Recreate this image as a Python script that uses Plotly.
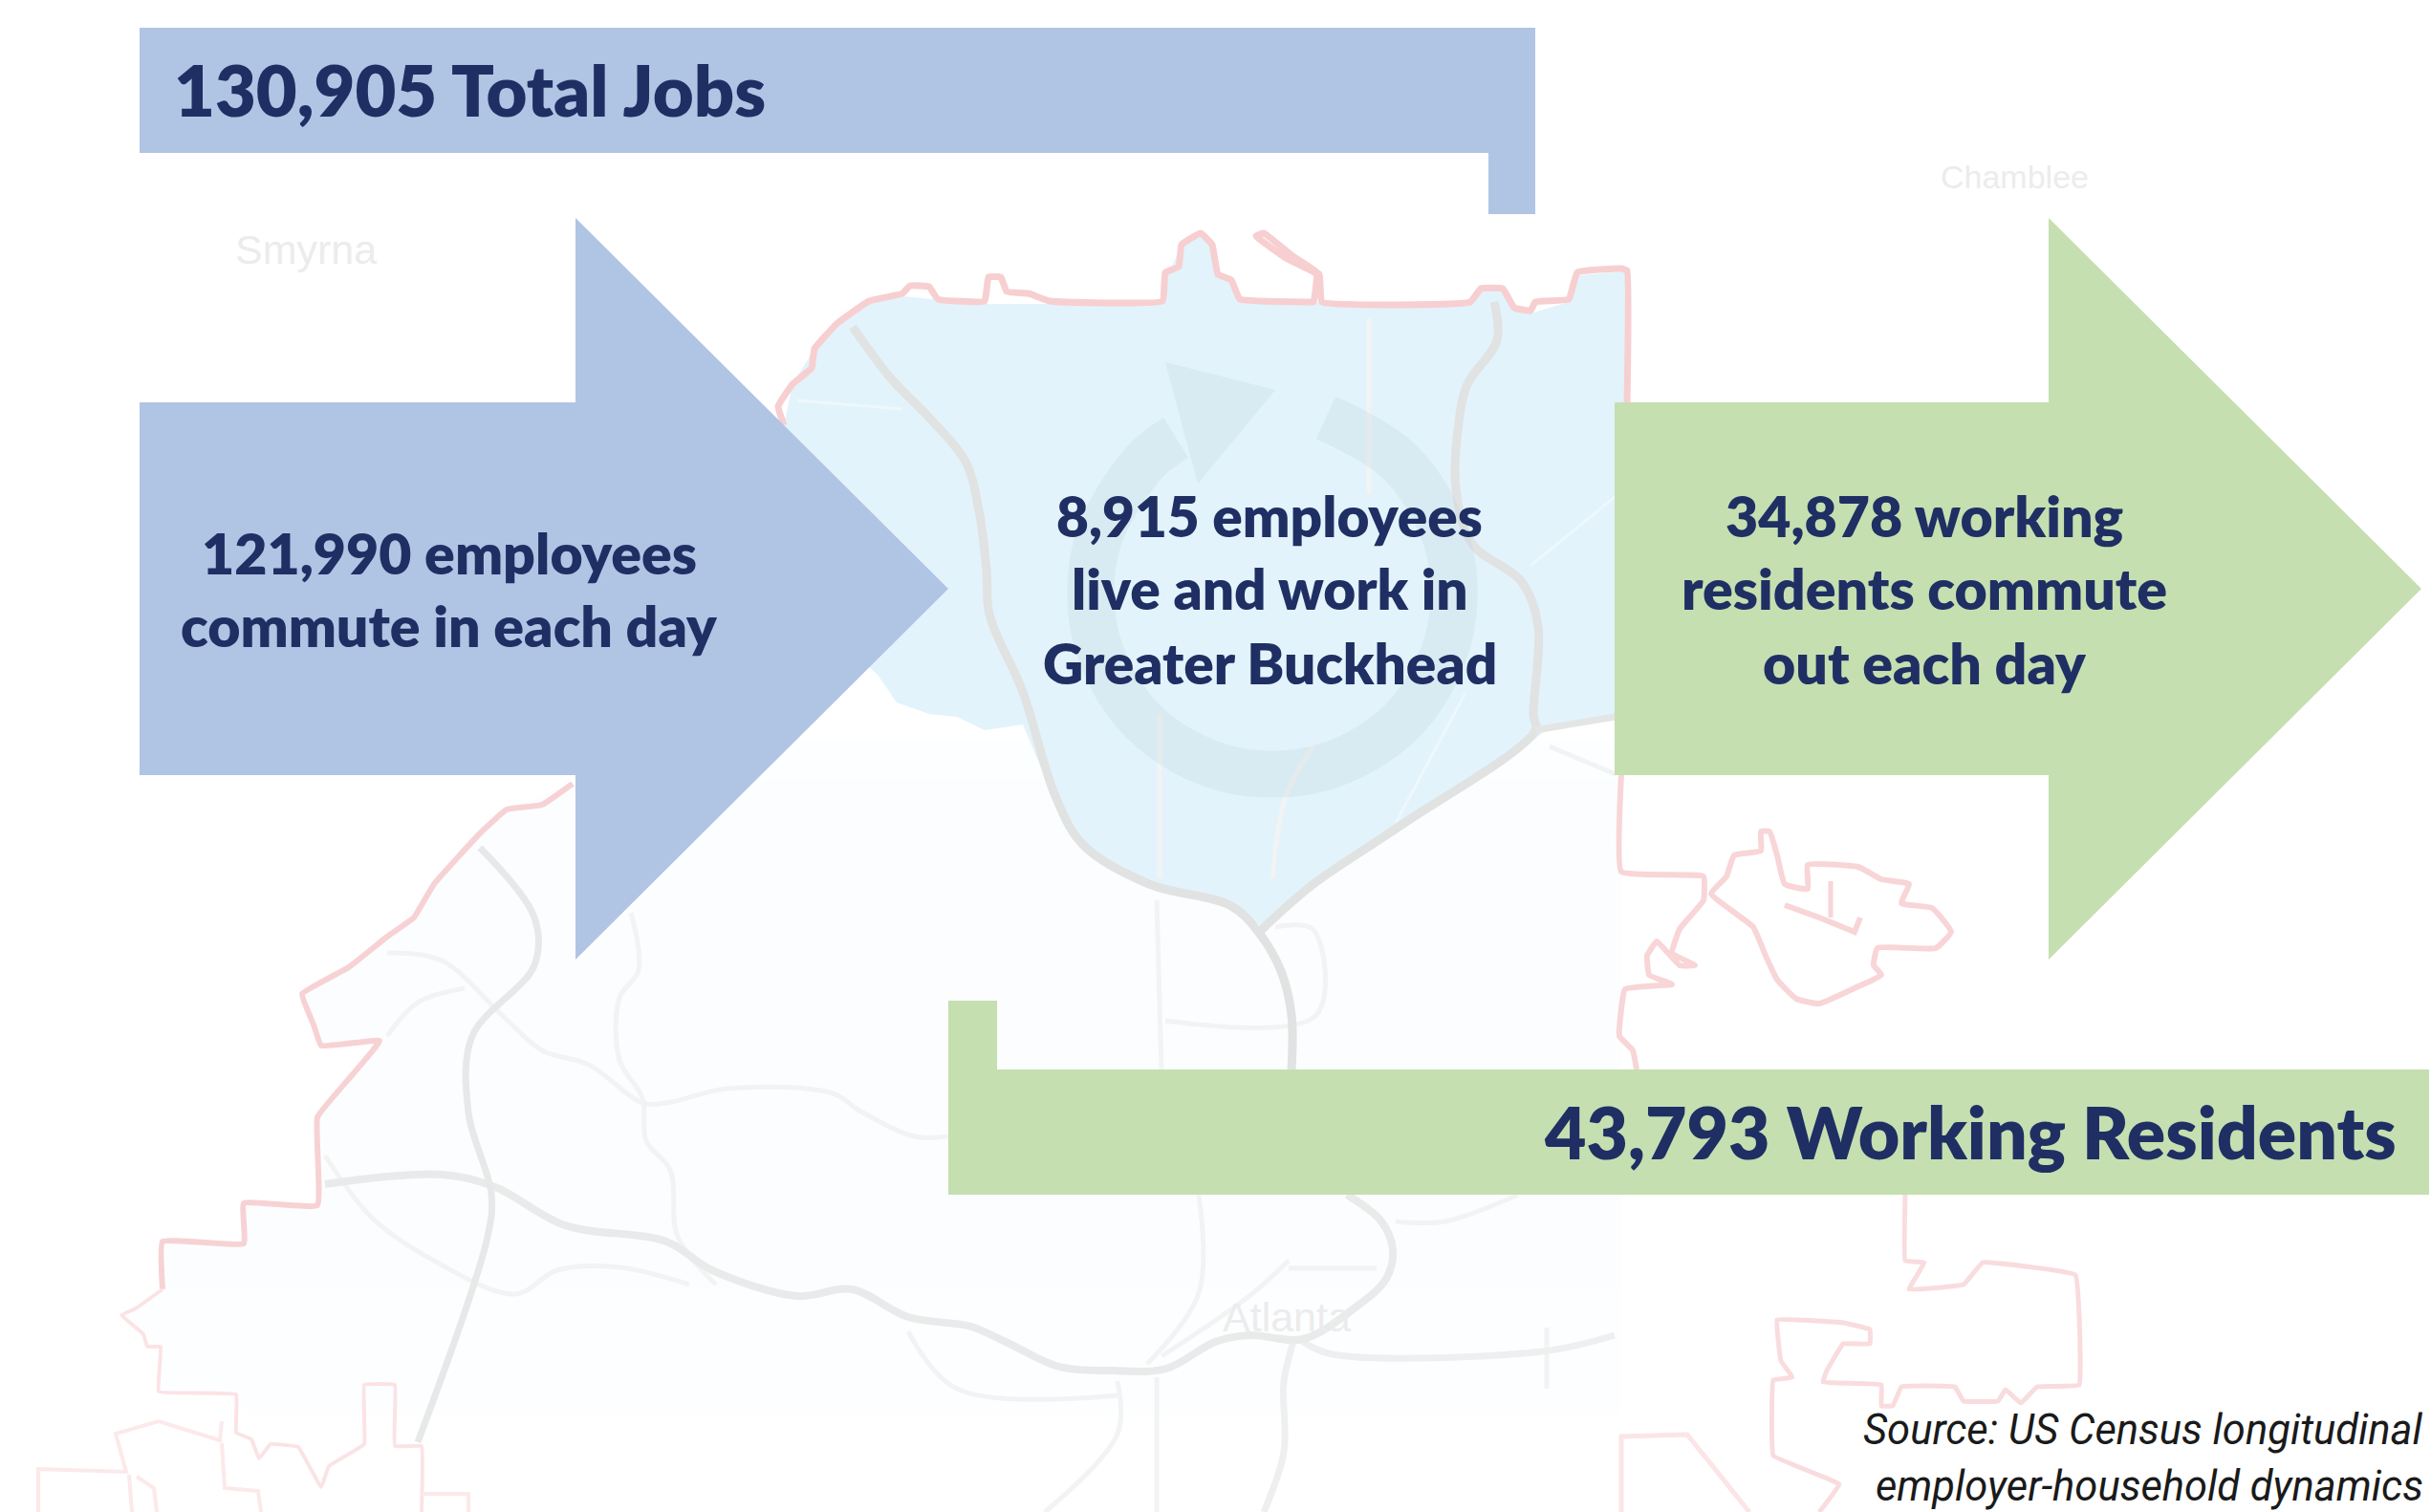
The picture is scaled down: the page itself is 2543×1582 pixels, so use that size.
import plotly.graph_objects as go

W, H = 2543, 1582
NAVY = "#1f2f63"
BLUE = "#b0c4e4"
GREEN = "#c5dfb1"
SKY = "#e2f3fb"

# ---- labels -------------------------------------------------------------
title_jobs = "130,905 Total Jobs"
title_residents = "43,793 Working Residents"
commute_in = ["121,990 employees", "commute in each day"]
live_work = ["8,915 employees", "live and work in", "Greater Buckhead"]
commute_out = ["34,878 working", "residents commute", "out each day"]
source_lines = ["Source: US Census longitudinal", "employer-household dynamics"]
place_names = ["Smyrna", "Chamblee", "Atlanta"]

# ---- diagram outlines (picture pixels) ---------------------------------
banner_jobs = [(146, 29), (1606, 29), (1606, 224), (1557, 224), (1557, 160), (146, 160)]
banner_res = [(992, 1047), (1043, 1047), (1043, 1119), (2541, 1119), (2541, 1250), (992, 1250)]
arrow_in = [(146, 421), (602, 421), (602, 228), (992, 616), (602, 1004), (602, 811), (146, 811)]
arrow_out = [(1689, 421), (2143, 421), (2143, 228), (2533, 616), (2143, 1004), (2143, 811), (1689, 811)]

buckhead = [(800, 600), (820, 445), (829, 402), (852, 365), (875, 339), (909, 318), (944, 310), (1030, 318),
            (1098, 318), (1216, 318), (1221, 288), (1236, 258), (1256, 247), (1268, 258), (1274, 290),
            (1290, 296), (1299, 316), (1535, 316), (1549, 304), (1572, 304), (1584, 325), (1601, 328),
            (1641, 316), (1650, 288), (1702, 284), (1702, 752), (1617, 764), (1604, 775), (1460, 873),
            (1374, 927), (1322, 971), (1288, 948), (1202, 927), (1133, 890), (1104, 839), (1070, 758),
            (1030, 764), (1001, 750), (972, 747), (938, 735), (918, 706)]
tint_band = [(800, 775), (1696, 775), (1696, 815), (800, 815)]
tint_upper = [(599, 820), (530, 847), (454, 925), (405, 980), (316, 1040), (336, 1094), (397, 1089), (332, 1169),
              (332, 1261), (255, 1259), (255, 1301), (170, 1299), (170, 1349), (1696, 1349), (1696, 815), (800, 815)]
tint_lower = [(170, 1349), (127, 1376), (168, 1409), (166, 1456), (247, 1459), (260, 1480), (1696, 1480), (1696, 1349)]

ring_centre = [(1387, 437), (1466, 485), (1515, 571), (1515, 669), (1466, 755), (1380, 804), (1282, 804),
               (1196, 755), (1147, 669), (1147, 571), (1196, 485), (1230, 458)]
ring_head = [(1219, 379), (1334, 408), (1253, 506)]

# ---- boundary lines ----------------------------------------------------
north = [(820, 445), (814, 425), (829, 402), (849, 385), (852, 365), (875, 339), (909, 315), (944, 307), (952, 299),
         (972, 300), (981, 313), (1030, 315), (1034, 290), (1047, 290), (1053, 305), (1076, 307), (1098, 315),
         (1216, 315), (1219, 285), (1233, 279), (1236, 256), (1256, 244), (1268, 256), (1274, 287), (1288, 293),
         (1297, 313), (1368, 316), (1374, 316), (1377, 287), (1345, 270), (1314, 247), (1322, 244), (1351, 267),
         (1380, 287), (1383, 316), (1538, 316), (1549, 302), (1572, 302), (1584, 322), (1601, 325), (1606, 316),
         (1641, 313), (1650, 285), (1696, 281), (1702, 283), (1702, 425)]
east = [(1696, 810), (1696, 912), (1782, 917), (1782, 942), (1757, 972), (1749, 997), (1773, 1010), (1757, 1010),
        (1733, 985), (1723, 1000), (1725, 1020), (1749, 1030), (1700, 1035), (1694, 1084), (1708, 1099), (1712, 1119)]
east_loop = [(1790, 935), (1806, 917), (1814, 895), (1842, 890), (1842, 870), (1851, 870), (1859, 895), (1867, 925),
             (1891, 930), (1891, 905), (1944, 907), (1968, 920), (1997, 925), (1989, 945), (2021, 950), (2041, 975),
             (2025, 992), (1964, 992), (1960, 1010), (1968, 1020), (1944, 1032), (1903, 1050), (1879, 1045),
             (1859, 1025), (1847, 1000), (1834, 970), (1790, 935)]
east_inner_a = [(1867, 947), (1903, 960), (1940, 975), (1946, 960)]
east_inner_b = [(1915, 922), (1915, 960)]
southeast = [(1993, 1250), (1993, 1319), (2013, 1321), (1997, 1349), (2054, 1344), (2074, 1321), (2171, 1334),
             (2175, 1449), (2131, 1451), (2114, 1468), (2098, 1454), (2090, 1466), (2054, 1466), (2045, 1451),
             (1989, 1451), (1980, 1471), (1968, 1471), (1968, 1449), (1907, 1446), (1911, 1434), (1928, 1406),
             (1956, 1406), (1956, 1391), (1928, 1384), (1859, 1381), (1863, 1424), (1875, 1441), (1855, 1444),
             (1855, 1523), (1924, 1553), (1903, 1582)]
south_pocket = [(1696, 1582), (1696, 1503), (1765, 1501), (1830, 1582)]
west_upper = [(599, 820), (567, 842), (530, 847), (502, 872), (454, 925), (433, 960), (405, 980), (365, 1012),
              (316, 1040), (328, 1072), (336, 1094), (397, 1089), (369, 1124), (332, 1169), (332, 1261), (255, 1259),
              (255, 1301), (170, 1299), (170, 1349)]
west_lower = [(170, 1349), (142, 1369), (127, 1376), (150, 1396), (154, 1409), (168, 1409), (166, 1456), (247, 1459),
              (247, 1499), (263, 1506), (271, 1526), (283, 1511), (312, 1514), (336, 1556), (344, 1534), (381, 1511),
              (381, 1449), (413, 1449), (413, 1513), (441, 1513), (441, 1582)]
sw_a = [(232, 1487), (230, 1507), (166, 1487), (121, 1500), (132, 1540), (40, 1537), (40, 1582)]
sw_b = [(135, 1543), (138, 1582)]
sw_c = [(143, 1545), (161, 1557), (164, 1582)]
sw_d = [(232, 1510), (235, 1557), (270, 1560), (273, 1582)]
sw_e = [(441, 1563), (450, 1563), (490, 1563), (490, 1582)]

# ---- roads -------------------------------------------------------------
road_a = [(892, 342), (932, 396), (972, 437), (1010, 483), (1024, 534), (1032, 597), (1035, 643), (1070, 724),
          (1104, 833), (1133, 884), (1202, 925), (1288, 948), (1317, 976), (1340, 1016), (1351, 1062), (1351, 1119)]
road_b = [(1563, 316), (1566, 356), (1535, 402), (1526, 442), (1523, 511), (1540, 569), (1592, 609), (1609, 655),
          (1604, 747), (1606, 764), (1460, 867), (1374, 925), (1328, 965), (1317, 976)]
road_b2 = [(1606, 764), (1695, 749)]
road_d = [(1409, 1250), (1445, 1278), (1457, 1308), (1450, 1338), (1419, 1367), (1363, 1401), (1307, 1397),
          (1271, 1404), (1220, 1432), (1164, 1434), (1108, 1430), (1052, 1404), (1016, 1388), (950, 1378),
          (891, 1349), (834, 1356), (745, 1329), (697, 1299), (591, 1282), (518, 1242), (462, 1229), (340, 1239)]
road_e = [(502, 887), (559, 960), (559, 1010), (494, 1084), (490, 1164), (514, 1249), (510, 1294), (437, 1509)]
road_j = [(1363, 1404), (1394, 1417), (1613, 1414), (1689, 1397)]
road_k = [(1353, 1404), (1343, 1445), (1343, 1519), (1322, 1582)]
faint_roads = [
    [(405, 997), (462, 1005), (527, 1064), (567, 1099), (616, 1114), (672, 1154), (697, 1154), (761, 1139),
     (871, 1144), (899, 1162), (956, 1189), (992, 1189)],
    [(660, 955), (668, 1015), (648, 1044), (648, 1109), (672, 1149), (676, 1194), (701, 1224), (709, 1294), (749, 1344)],
    [(340, 1209), (389, 1274), (454, 1319), (539, 1354), (583, 1329), (648, 1326), (721, 1344)],
    [(486, 1034), (437, 1049), (405, 1084)],
    [(1334, 970), (1374, 973), (1377, 1062), (1219, 1068)],
    [(1210, 942), (1215, 1119)],
    [(1254, 1250), (1254, 1353), (1200, 1427)],
    [(1348, 1327), (1440, 1327)],
    [(1348, 1319), (1307, 1356), (1215, 1419)],
    [(1210, 1441), (1210, 1582)],
    [(950, 1393), (1001, 1453), (1169, 1460)],
    [(1169, 1445), (1169, 1500), (1093, 1582)],
    [(1618, 1389), (1618, 1453)],
    [(1460, 1278), (1511, 1278), (1588, 1250)],
    [(1621, 781), (1690, 810)],
    [(1432, 333), (1432, 517)],
    [(1213, 747), (1213, 919)],
    [(1374, 781), (1345, 833), (1331, 919)],
]
white_roads = [
    [(1460, 861), (1533, 725)],
    [(1601, 592), (1700, 511)],
    [(834, 419), (944, 428)],
]


def xs(path):
    return [p[0] for p in path]


def ys(path):
    return [p[1] for p in path]


fig = go.Figure()


def area(path, color):
    fig.add_trace(go.Scatter(x=xs(path) + [path[0][0]], y=ys(path) + [path[0][1]], mode="lines", fill="toself",
                             fillcolor=color, line=dict(width=0, color=color), hoverinfo="skip", showlegend=False))


def stroke(path, color, width, smooth=0.0):
    fig.add_trace(go.Scatter(x=xs(path), y=ys(path), mode="lines",
                             line=dict(color=color, width=width, shape="spline" if smooth else "linear",
                                       smoothing=smooth if smooth else None), hoverinfo="skip", showlegend=False))


area(tint_band, "#fdfeff")
area(tint_upper, "#fcfdfe")
area(tint_lower, "#fdfeff")
area(buckhead, SKY)

for road in white_roads:
    stroke(road, "#eef8fc", 3)
for road in faint_roads:
    stroke(road, "#f2f3f3", 5, 1.0)
stroke(road_k, "#eeefef", 7, 1.0)
stroke(road_j, "#eeefef", 7, 1.0)
stroke(road_d, "#e9eaea", 8, 1.0)
stroke(road_e, "#e7e8e8", 7, 1.0)
stroke(road_a, "#e1e2e2", 9, 1.0)
stroke(road_b, "#e1e2e2", 9, 1.0)
stroke(road_b2, "#e4e5e5", 7, 1.0)

stroke(north, "#f7cfd1", 7, 0.3)
stroke(west_upper, "#f7d2d4", 6, 0.3)
stroke(east, "#f8d5d7", 6, 0.3)
stroke(east_loop, "#f8d5d7", 6, 0.4)
stroke(east_inner_a, "#f8d5d7", 6)
stroke(east_inner_b, "#f8d5d7", 5)
stroke(southeast, "#f9dcde", 5, 0.2)
stroke(south_pocket, "#fbe5e7", 5)
stroke(west_lower, "#fbe3e5", 4, 0.2)
for piece in (sw_a, sw_b, sw_c, sw_d, sw_e):
    stroke(piece, "#fce9ea", 4)

stroke(ring_centre, "rgba(190,210,216,0.25)", 49, 1.0)
area(ring_head, "rgba(190,210,216,0.25)")

area(banner_jobs, BLUE)
area(arrow_in, BLUE)
area(arrow_out, GREEN)
area(banner_res, GREEN)

notes = []


def label(text, x, y, size, anchor="center", color=NAVY, family="Lato", weight=800, italic=False):
    notes.append(dict(x=x, y=y, text=text, showarrow=False, xanchor=anchor, yanchor="middle",
                      font=dict(family=family, size=size, color=color, weight=weight,
                                style="italic" if italic else "normal")))


label(title_jobs, 180, 93, 74, "left")
label(title_residents, 2509, 1184, 75, "right")
for line, y in zip(commute_in, (578, 654)):
    label(line, 470, y, 59)
for line, y in zip(live_work, (539, 615, 693)):
    label(line, 1328, y, 58.5)
for line, y in zip(commute_out, (539, 615, 693)):
    label(line, 2013, y, 59)
for line, y in zip(source_lines, (1496, 1555)):
    label(line, 2537, y, 43.5, "right", "#1a1a1a", "Roboto", 400, True)
for name, x, y, size in zip(place_names, (320, 2107, 1346), (261, 185, 1378), (43, 34, 43)):
    label(name, x, y, size, color="#ececec", family="Liberation Sans", weight=400)

fig.update_layout(
    width=W, height=H, margin=dict(l=0, r=0, t=0, b=0), paper_bgcolor="white", plot_bgcolor="white",
    xaxis=dict(range=[0, W], visible=False, fixedrange=True),
    yaxis=dict(range=[H, 0], visible=False, fixedrange=True),
    annotations=notes, showlegend=False,
)
fig.write_html("out.html", config={"displayModeBar": False},
               post_script="document.body.style.margin='0';document.body.style.overflow='hidden';")
